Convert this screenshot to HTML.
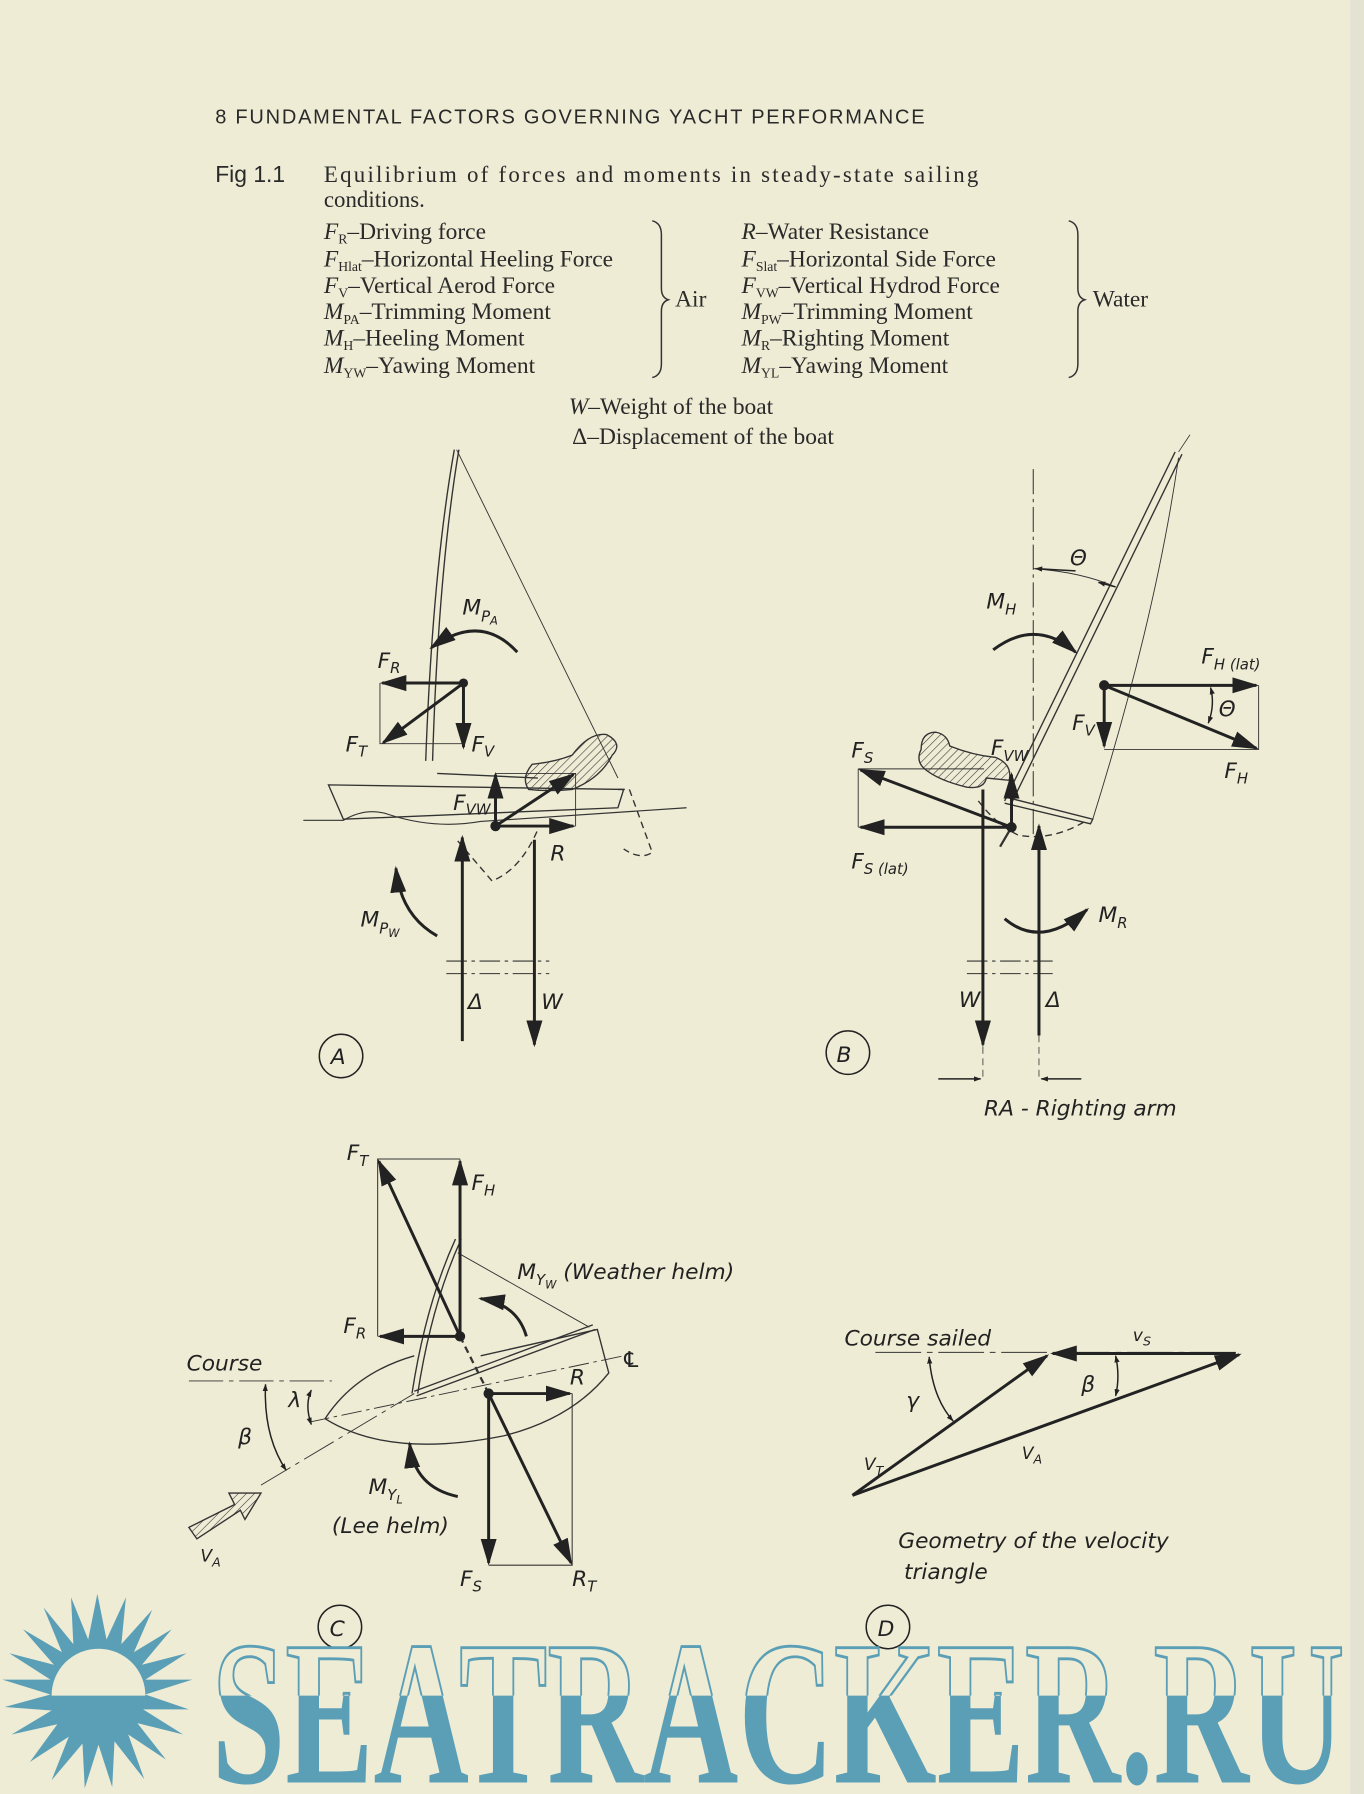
<!DOCTYPE html>
<html><head><meta charset="utf-8">
<style>
html,body{margin:0;padding:0;background:#efecd5;}
svg{display:block;}
.s{font-family:"Liberation Serif",serif;fill:#2a2a2a;}
.h{font-family:"Liberation Sans",sans-serif;fill:#2a2a2a;}
.l{font-family:"DejaVu Sans","Liberation Sans",sans-serif;font-style:italic;fill:#222;font-size:19px;}
.sub{font-size:12px;}
</style></head>
<body>
<svg width="1364" height="1794" viewBox="0 0 1192 1568" xmlns="http://www.w3.org/2000/svg">
<defs>
<marker id="a" viewBox="0 0 10 10" refX="9" refY="5" markerWidth="5" markerHeight="5" orient="auto-start-reverse" markerUnits="strokeWidth"><path d="M0,1.5 L10,5 L0,8.5 z" fill="#222"/></marker>
<marker id="b" viewBox="0 0 10 10" refX="9" refY="5" markerWidth="9" markerHeight="9" orient="auto-start-reverse" markerUnits="strokeWidth"><path d="M0,2 L10,5 L0,8 z" fill="#222"/></marker>
<pattern id="hat" width="5" height="5" patternUnits="userSpaceOnUse" patternTransform="rotate(45)"><line x1="0" y1="0" x2="0" y2="5" stroke="#333" stroke-width="1"/></pattern>
<clipPath id="top"><rect x="0" y="1400" width="1192" height="82"/></clipPath>
</defs>
<rect width="1192" height="1568" fill="#efecd5"/>
<rect x="1180" y="0" width="12" height="1568" fill="#e4e2d2"/>

<!-- header -->
<text class="h" x="188" y="108" font-size="17.5" textLength="620" lengthAdjust="spacing">8  FUNDAMENTAL FACTORS GOVERNING YACHT PERFORMANCE</text>
<text class="h" x="188" y="159" font-size="20" fill="#555">Fig 1.1</text>
<text class="s" x="283" y="159" font-size="20" textLength="572">Equilibrium of forces and moments in steady-state sailing</text>
<text class="s" x="283" y="181" font-size="20">conditions.</text>
<g class="s" font-size="20.5">
<text x="283" y="209"><tspan font-style="italic">F</tspan><tspan class="sub" dy="4">R</tspan><tspan dy="-4">–Driving force</tspan></text>
<text x="283" y="233"><tspan font-style="italic">F</tspan><tspan class="sub" dy="4">Hlat</tspan><tspan dy="-4">–Horizontal Heeling Force</tspan></text>
<text x="283" y="256"><tspan font-style="italic">F</tspan><tspan class="sub" dy="4">V</tspan><tspan dy="-4">–Vertical Aerod Force</tspan></text>
<text x="283" y="279"><tspan font-style="italic">M</tspan><tspan class="sub" dy="4">PA</tspan><tspan dy="-4">–Trimming Moment</tspan></text>
<text x="283" y="302"><tspan font-style="italic">M</tspan><tspan class="sub" dy="4">H</tspan><tspan dy="-4">–Heeling Moment</tspan></text>
<text x="283" y="326"><tspan font-style="italic">M</tspan><tspan class="sub" dy="4">YW</tspan><tspan dy="-4">–Yawing Moment</tspan></text>
<text x="590" y="268">Air</text>
<text x="648" y="209"><tspan font-style="italic">R</tspan>–Water Resistance</text>
<text x="648" y="233"><tspan font-style="italic">F</tspan><tspan class="sub" dy="4">Slat</tspan><tspan dy="-4">–Horizontal Side Force</tspan></text>
<text x="648" y="256"><tspan font-style="italic">F</tspan><tspan class="sub" dy="4">VW</tspan><tspan dy="-4">–Vertical Hydrod Force</tspan></text>
<text x="648" y="279"><tspan font-style="italic">M</tspan><tspan class="sub" dy="4">PW</tspan><tspan dy="-4">–Trimming Moment</tspan></text>
<text x="648" y="302"><tspan font-style="italic">M</tspan><tspan class="sub" dy="4">R</tspan><tspan dy="-4">–Righting Moment</tspan></text>
<text x="648" y="326"><tspan font-style="italic">M</tspan><tspan class="sub" dy="4">YL</tspan><tspan dy="-4">–Yawing Moment</tspan></text>
<text x="955" y="268">Water</text>
<text x="497" y="362"><tspan font-style="italic">W</tspan>–Weight of the boat</text>
<text x="500" y="388">Δ–Displacement of the boat</text>
</g>
<g fill="none" stroke="#333" stroke-width="1.3">
<path d="M570,193 Q578,195 578,205 L578,252 Q578,260 584,262 Q578,264 578,272 L578,318 Q578,328 570,330"/>
<path d="M934,193 Q942,195 942,205 L942,252 Q942,260 948,262 Q942,264 942,272 L942,318 Q942,328 934,330"/>
</g>

<!-- ===== A ===== -->
<g fill="none" stroke="#333" stroke-width="1.2">
<path d="M397,393 Q378,500 372,665"/><path d="M401,393 Q383,500 378,665"/>
<path d="M399,393 L540,680" stroke-width="0.8"/>
<path d="M287,686 L545,690 L540,706 L300,716 Z"/>
<path d="M265,717 L300,717 Q320,705 340,712 Q380,725 420,718 L600,706" stroke-width="1"/>
<path d="M382,676 L470,680" />
<path d="M540,690 L550,690 L570,745 Q560,752 545,742" stroke-dasharray="6,4"/>
<path d="M400,735 L430,770 Q455,760 470,725" stroke-dasharray="6,4"/>
<path d="M332,597 L332,650 L405,650" stroke-width="0.8"/>
<path d="M433,676 L503,676 L503,722" stroke-width="0.8"/>
<path d="M390,840 H480 M390,851 H480" stroke-width="0.9" stroke-dasharray="18,4,3,4"/>
</g>
<path d="M465,668 Q485,666 500,660 Q515,640 530,642 Q545,650 535,660 Q525,680 500,690 Q480,692 462,690 Q455,680 465,668 Z" fill="url(#hat)" stroke="#333" stroke-width="1.2"/>
<g stroke="#222" stroke-width="2.6" fill="none">
<line x1="405" y1="597" x2="334" y2="597" marker-end="url(#b)"/>
<line x1="405" y1="597" x2="405" y2="653" marker-end="url(#b)"/>
<line x1="405" y1="597" x2="335" y2="649" marker-end="url(#b)"/>
<line x1="433" y1="722" x2="433" y2="677" marker-end="url(#b)"/>
<line x1="433" y1="722" x2="501" y2="722" marker-end="url(#b)"/>
<line x1="433" y1="722" x2="501" y2="677" marker-end="url(#b)"/>
<line x1="404" y1="910" x2="404" y2="732" marker-end="url(#b)"/>
<line x1="467" y1="734" x2="467" y2="913" marker-end="url(#b)"/>
<path d="M452,570 Q420,535 377,566" marker-end="url(#b)"/>
<path d="M382,818 Q350,800 346,759" marker-end="url(#b)"/>
</g>
<circle cx="405" cy="597" r="4" fill="#222"/><circle cx="433" cy="722" r="4.5" fill="#222"/>
<g class="l">
<text x="404" y="537">M<tspan font-size="13" dy="6">P</tspan><tspan font-size="10" dy="3">A</tspan></text>
<text x="330" y="584">F<tspan font-size="13" dy="4">R</tspan></text>
<text x="302" y="657">F<tspan font-size="13" dy="4">T</tspan></text>
<text x="412" y="657">F<tspan font-size="13" dy="4">V</tspan></text>
<text x="396" y="708">F<tspan font-size="13" dy="4">VW</tspan></text>
<text x="481" y="752">R</text>
<text x="315" y="810">M<tspan font-size="13" dy="6">P</tspan><tspan font-size="10" dy="3">W</tspan></text>
<text x="409" y="882">Δ</text><text x="473" y="882">W</text>
<text x="289" y="930">A</text>
</g>
<circle cx="298" cy="923" r="19" fill="none" stroke="#222" stroke-width="1.3"/>

<!-- ===== B ===== -->
<g fill="none" stroke="#333" stroke-width="1.2">
<path d="M903,410 V730" stroke-width="0.9" stroke-dasharray="22,4,3,4"/>
<path d="M1027,395 L878,700 M1033,397 L884,702"/>
<path d="M1030,395 L1040,380" stroke-width="0.7"/>
<path d="M1030,400 Q1010,540 955,716" stroke-width="0.8"/>
<path d="M880,697 L955,716 L953,720 L878,702"/>
<path d="M903,497 Q945,500 975,513" stroke-width="0.9"/>
<path d="M1100,599 V655 H965" stroke-width="0.8"/>
<path d="M750,672 V723" stroke-width="0.8"/>
<path d="M750,672 H860" stroke-width="0.8"/>
<path d="M855,700 Q870,720 890,730 Q920,735 948,718" stroke-dasharray="6,4"/>
<path d="M845,840 H920 M845,851 H920" stroke-width="0.9" stroke-dasharray="18,4,3,4"/>
<path d="M859,855 V945 M908,855 V945" stroke-width="0.7" stroke-dasharray="6,4"/>
<line x1="874" y1="740" x2="884" y2="723" stroke-width="2"/>
</g>
<path d="M805,655 Q805,640 818,640 Q828,642 830,652 Q850,660 870,662 Q885,668 882,682 L862,680 Q860,690 845,688 Q820,682 808,672 Q800,665 805,655Z" fill="url(#hat)" stroke="#333" stroke-width="1.2"/>
<g stroke="#222" stroke-width="2.6" fill="none">
<line x1="965" y1="599" x2="1098" y2="599" marker-end="url(#b)"/>
<line x1="965" y1="599" x2="965" y2="652" marker-end="url(#b)"/>
<line x1="965" y1="599" x2="1098" y2="654" marker-end="url(#b)"/>
<line x1="884" y1="723" x2="752" y2="723" marker-end="url(#b)"/>
<line x1="884" y1="723" x2="752" y2="673" marker-end="url(#b)"/>
<line x1="884" y1="723" x2="884" y2="677" marker-end="url(#b)"/>
<line x1="859" y1="690" x2="859" y2="913" marker-end="url(#b)"/>
<line x1="908" y1="905" x2="908" y2="722" marker-end="url(#b)"/>
<path d="M868,568 Q905,540 940,570" marker-end="url(#b)"/>
<path d="M878,803 Q910,830 950,795" marker-end="url(#b)"/>
</g>
<g stroke="#222" stroke-width="1.3" fill="none">
<path d="M1058,601 Q1062,616 1056,632" marker-start="url(#a)" marker-end="url(#a)"/>
<line x1="975" y1="513" x2="960" y2="509" marker-end="url(#a)"/>
<line x1="940" y1="499" x2="905" y2="497" marker-end="url(#a)"/>
<line x1="820" y1="943" x2="857" y2="943" marker-end="url(#a)"/>
<line x1="945" y1="943" x2="910" y2="943" marker-end="url(#a)"/>
</g>
<circle cx="965" cy="599" r="4.5" fill="#222"/><circle cx="884" cy="723" r="4.5" fill="#222"/>
<g class="l">
<text x="935" y="494">Θ</text>
<text x="862" y="532">M<tspan font-size="13" dy="5">H</tspan></text>
<text x="1050" y="580">F<tspan font-size="13" dy="5">H (lat)</tspan></text>
<text x="1065" y="626">Θ</text>
<text x="937" y="638">F<tspan font-size="13" dy="5">V</tspan></text>
<text x="1070" y="680">F<tspan font-size="13" dy="5">H</tspan></text>
<text x="866" y="660">F<tspan font-size="13" dy="5">VW</tspan></text>
<text x="744" y="662">F<tspan font-size="13" dy="5">S</tspan></text>
<text x="744" y="759">F<tspan font-size="13" dy="5">S (lat)</tspan></text>
<text x="960" y="806">M<tspan font-size="13" dy="5">R</tspan></text>
<text x="838" y="880">W</text><text x="914" y="880">Δ</text>
<text x="731" y="928">B</text>
<text x="860" y="975">RA - Righting arm</text>
</g>
<circle cx="741" cy="920" r="19" fill="none" stroke="#222" stroke-width="1.3"/>

<!-- ===== C ===== -->
<g fill="none" stroke="#333" stroke-width="1.2">
<path d="M330,1168 V1013 H402" stroke-width="0.9"/>
<path d="M500,1218 V1368 H427" stroke-width="0.9"/>
<path d="M284,1240 Q310,1200 362,1185 M284,1240 Q340,1275 440,1255 Q500,1240 532,1200 L522,1162 L420,1185"/>
<path d="M398,1083 Q372,1140 360,1218 M403,1083 Q377,1140 365,1218"/>
<path d="M362,1216 L518,1158 M364,1220 L520,1162"/>
<path d="M400,1095 L515,1160" stroke-width="0.8"/>
<path d="M270,1243 L545,1185" stroke-width="0.8" stroke-dasharray="18,4,3,4"/>
<path d="M228,1298 L362,1218" stroke-width="0.8" stroke-dasharray="30,5,4,5"/>
<path d="M165,1207 H290" stroke-width="0.8" stroke-dasharray="30,5,4,5"/>
<path d="M402,1168 L427,1218" stroke-width="2" stroke-dasharray="6,4"/>
</g>
<g stroke="#222" stroke-width="2.6" fill="none">
<line x1="402" y1="1168" x2="402" y2="1015" marker-end="url(#b)"/>
<line x1="402" y1="1168" x2="331" y2="1015" marker-end="url(#b)"/>
<line x1="402" y1="1168" x2="332" y2="1168" marker-end="url(#b)"/>
<line x1="427" y1="1218" x2="498" y2="1218" marker-end="url(#b)"/>
<line x1="427" y1="1218" x2="427" y2="1366" marker-end="url(#b)"/>
<line x1="427" y1="1218" x2="499" y2="1366" marker-end="url(#b)"/>
<path d="M460,1168 Q452,1140 420,1135" marker-end="url(#b)"/>
<path d="M400,1308 Q362,1300 358,1262" marker-end="url(#b)"/>
</g>
<g stroke="#222" stroke-width="1.3" fill="none">
<path d="M272,1215 Q266,1228 272,1245" marker-start="url(#a)" marker-end="url(#a)"/>
<path d="M232,1210 Q230,1255 250,1285" marker-start="url(#a)" marker-end="url(#a)"/>
</g>
<path d="M165,1335 L205,1315 L200,1305 L228,1305 L214,1328 L210,1320 L172,1345 Z" fill="url(#hat)" stroke="#333" stroke-width="1.2"/>
<circle cx="402" cy="1168" r="4.5" fill="#222"/><circle cx="427" cy="1218" r="4.5" fill="#222"/>
<g class="l">
<text x="303" y="1014">F<tspan font-size="13" dy="5">T</tspan></text>
<text x="412" y="1040">F<tspan font-size="13" dy="5">H</tspan></text>
<text x="452" y="1118">M<tspan font-size="13" dy="5">Y</tspan><tspan font-size="10" dy="3">W</tspan><tspan dy="-8"> (Weather helm)</tspan></text>
<text x="300" y="1165">F<tspan font-size="13" dy="5">R</tspan></text>
<text x="163" y="1198">Course</text>
<text x="543" y="1195">℄</text>
<text x="498" y="1210">R</text>
<text x="252" y="1230">λ</text>
<text x="208" y="1262">β</text>
<text x="322" y="1306">M<tspan font-size="13" dy="5">Y</tspan><tspan font-size="10" dy="3">L</tspan></text>
<text x="290" y="1340">(Lee helm)</text>
<text x="175" y="1365" font-size="15">V<tspan font-size="11" dy="4">A</tspan></text>
<text x="402" y="1386">F<tspan font-size="13" dy="5">S</tspan></text>
<text x="500" y="1386">R<tspan font-size="13" dy="5">T</tspan></text>
<text x="288" y="1430">C</text>
<text x="738" y="1176">Course sailed</text>
<text x="990" y="1172" font-size="15">v<tspan font-size="11" dy="4">S</tspan></text>
<text x="945" y="1216">β</text>
<text x="792" y="1230">γ</text>
<text x="755" y="1285" font-size="15">V<tspan font-size="11" dy="4">T</tspan></text>
<text x="893" y="1275" font-size="15">V<tspan font-size="11" dy="4">A</tspan></text>
<text x="785" y="1353">Geometry of the velocity</text>
<text x="790" y="1380">triangle</text>
<text x="767" y="1430">D</text>
</g>
<circle cx="297" cy="1422" r="19" fill="none" stroke="#222" stroke-width="1.3"/>
<circle cx="776" cy="1422" r="19" fill="none" stroke="#222" stroke-width="1.3"/>

<!-- ===== D ===== -->
<path d="M765,1182 H1085" stroke="#333" stroke-width="0.9" stroke-dasharray="40,5,5,5" fill="none"/>
<g stroke="#222" stroke-width="2.6" fill="none">
<line x1="1080" y1="1183" x2="920" y2="1183" marker-end="url(#b)"/>
<line x1="745" y1="1307" x2="915" y2="1185" marker-end="url(#b)"/>
<line x1="745" y1="1307" x2="1083" y2="1184" marker-end="url(#b)"/>
</g>
<g stroke="#222" stroke-width="1.3" fill="none">
<path d="M812,1186 Q815,1222 833,1242" marker-start="url(#a)" marker-end="url(#a)"/>
<path d="M975,1185 Q979,1203 975,1220" marker-start="url(#a)" marker-end="url(#a)"/>
</g>

<!-- ===== watermark ===== -->
<g fill="#5b9fb7">
<polygon points="
85,1393 93,1433 110,1396 106,1437 133,1407 117,1444 150,1424 124,1455 163,1445 127,1468 168,1468 127,1481 165,1494 125,1494 160,1516 120,1506 145,1538 112,1516 126,1555 100,1522 98,1562 86,1525 74,1563 72,1524 45,1556 60,1518 26,1540 50,1507 10,1516 45,1495 4,1492 44,1481 2,1468 44,1468 8,1445 47,1455 20,1424 54,1444 38,1405 64,1437 62,1396 77,1433"/>
</g>
<path d="M45,1482 A41,41 0 0 1 127,1482 Z" fill="#efecd5"/>
<text x="185" y="1558" font-family="Liberation Serif,serif" font-weight="bold" font-size="180" textLength="990" lengthAdjust="spacingAndGlyphs" fill="#5b9fb7">SEATRACKER.RU</text>
<text x="185" y="1558" font-family="Liberation Serif,serif" font-weight="bold" font-size="180" textLength="990" lengthAdjust="spacingAndGlyphs" fill="#efecd5" stroke="#5b9fb7" stroke-width="2.5" clip-path="url(#top)">SEATRACKER.RU</text>
</svg>
</body></html>
